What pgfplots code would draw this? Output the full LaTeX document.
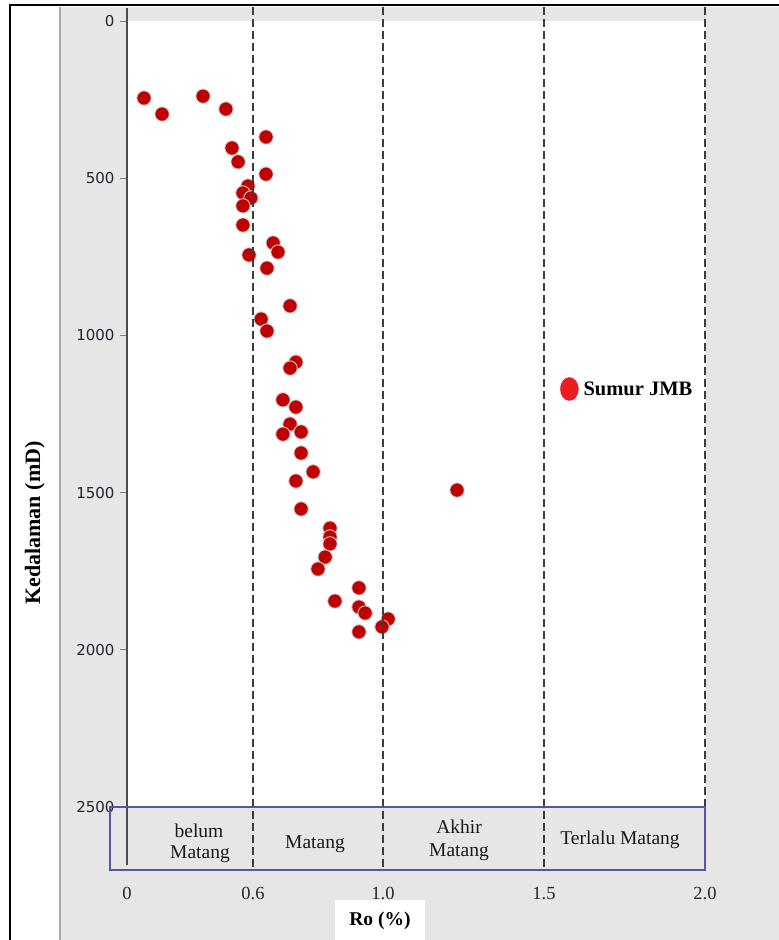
\documentclass[border=0pt]{standalone}
\usepackage{pgfplots}
\usepackage{pgfplotstable}
\pgfplotsset{compat=1.18}
\usepackage{fontspec}
\setmainfont{Liberation Serif}
\newfontfamily\tickfont{DejaVu Sans}

\definecolor{panelgray}{HTML}{E6E6E6}
\definecolor{paneledge}{HTML}{A8A8A8}
\definecolor{dotred}{HTML}{C00000}
\definecolor{dothalo}{HTML}{D0D0D0}
\definecolor{jmbred}{HTML}{ED1C24}
\definecolor{zoneblue}{HTML}{5555A5}
\definecolor{dashgray}{HTML}{3C3C3C}
\definecolor{ticktext}{HTML}{22222E}

% Vitrinite reflectance (Ro, %) against depth (m)
\pgfplotstableread{
ro     depth
0.081  245
0.167  296
0.362  239
0.471  280
0.500  404
0.529  448
0.640  369
0.640  487
0.576  525
0.552  547
0.590  563
0.552  588
0.552  649
0.662  706
0.677  735
0.581  744
0.643  786
0.714  906
0.625  948
0.643  986
0.732  1085
0.714  1104
0.692  1205
0.732  1228
0.714  1282
0.692  1314
0.748  1307
0.748  1374
0.785  1434
0.732  1463
1.230  1492
0.748  1552
0.837  1613
0.837  1641
0.837  1663
0.822  1705
0.800  1743
0.926  1803
0.852  1845
0.926  1864
0.945  1883
1.016  1902
0.997  1927
0.926  1943
}\rodata

\begin{document}
\begin{tikzpicture}[x=1pt,y=1pt]
% frame and panels
\fill[white] (0,0) rectangle (779,-940);
\fill[panelgray] (60,-7) rectangle (790,-950);
\draw[paneledge, line width=1.2pt] (60,-7) -- (60,-950);
\draw[black, line width=2.5pt] (10,-950) -- (10,-5) -- (790,-5);
\fill[white] (335,-900) rectangle (425,-950);

\begin{axis}[
  at={(127pt,-807pt)}, anchor=south west,
  scale only axis, width=578pt, height=786pt,
  xmin=0, xmax=2, ymin=0, ymax=2500, y dir=reverse,
  % piecewise scale of the Ro axis
  x coord trafo/.code={\pgfmathparse{(#1<=0.6) ? (210*#1) : ((#1<=1.0) ? (126+325*(#1-0.6)) : (256+322*(#1-1)))}},
  axis background/.style={fill=white},
  axis line style={draw=none},
  xtick={0,0.6,1.0,1.5,2.0},
  xticklabels={0,0.6,1.0,1.5,2.0},
  xtick style={draw=none},
  xticklabel style={font=\fontsize{18.5}{20}\selectfont, text=black!85, anchor=base, yshift=-85pt},
  ytick={0,500,1000,1500,2000,2500},
  ytick pos=left,
  ytick style={draw=gray, line width=1pt},
  tick align=outside, major tick length=7pt,
  yticklabel style={font=\tickfont\fontsize{15}{17}\selectfont, text=ticktext, xshift=-2pt},
  /pgf/number format/assume math mode=true,
  /pgf/number format/1000 sep={},
  clip=false,
  legend style={draw=none, fill=none, at={(axis description cs:0.7491,0.5318)}, anchor=west,
    inner sep=0pt, nodes={inner sep=0pt}, font=\bfseries\fontsize{20.5}{22}\selectfont,
    /tikz/every odd column/.append style={column sep=5pt}},
  legend image code/.code={\fill[jmbred] (9pt,0pt) ellipse [x radius=9pt, y radius=11.5pt];},
]
\addplot[forget plot, only marks, mark=*, mark size=7.2pt,
  mark options={fill=dotred, draw=dothalo, line width=0.9pt}]
  table[x=ro, y=depth] {\rodata};
\addlegendimage{}
\addlegendentry{Sumur JMB}
\end{axis}

% maturity boundaries
\foreach \xx in {253,383,544,705}
  \draw[dashgray, line width=1.6pt, dash pattern=on 8pt off 4pt] (\xx,-7) -- (\xx,-870);
% depth axis line
\draw[black!70, line width=1.6pt] (127,-8) -- (127,-865);
% maturity zones
\draw[zoneblue, line width=1.2pt] (110,-807) rectangle (705,-870);
\begin{scope}[every node/.style={font=\fontsize{19.5}{22}\selectfont, anchor=base, inner sep=0pt, text=black!90}]
\node at (199,-837) {belum};
\node at (200,-858) {Matang};
\node at (315,-848) {Matang};
\node at (459,-833) {Akhir};
\node at (459,-856) {Matang};
\node at (620,-844) {Terlalu Matang};
\end{scope}
% axis titles
\node[font=\bfseries\fontsize{19.5}{22}\selectfont, anchor=base, inner sep=0pt] at (380,-925) {Ro (\%)};
\node[font=\bfseries\fontsize{22}{24}\selectfont, anchor=base, rotate=90, inner sep=0pt] at (40,-523) {Kedalaman (mD)};

\pgfresetboundingbox
\useasboundingbox (0,0) rectangle (779,-940);
\end{tikzpicture}
\end{document}
